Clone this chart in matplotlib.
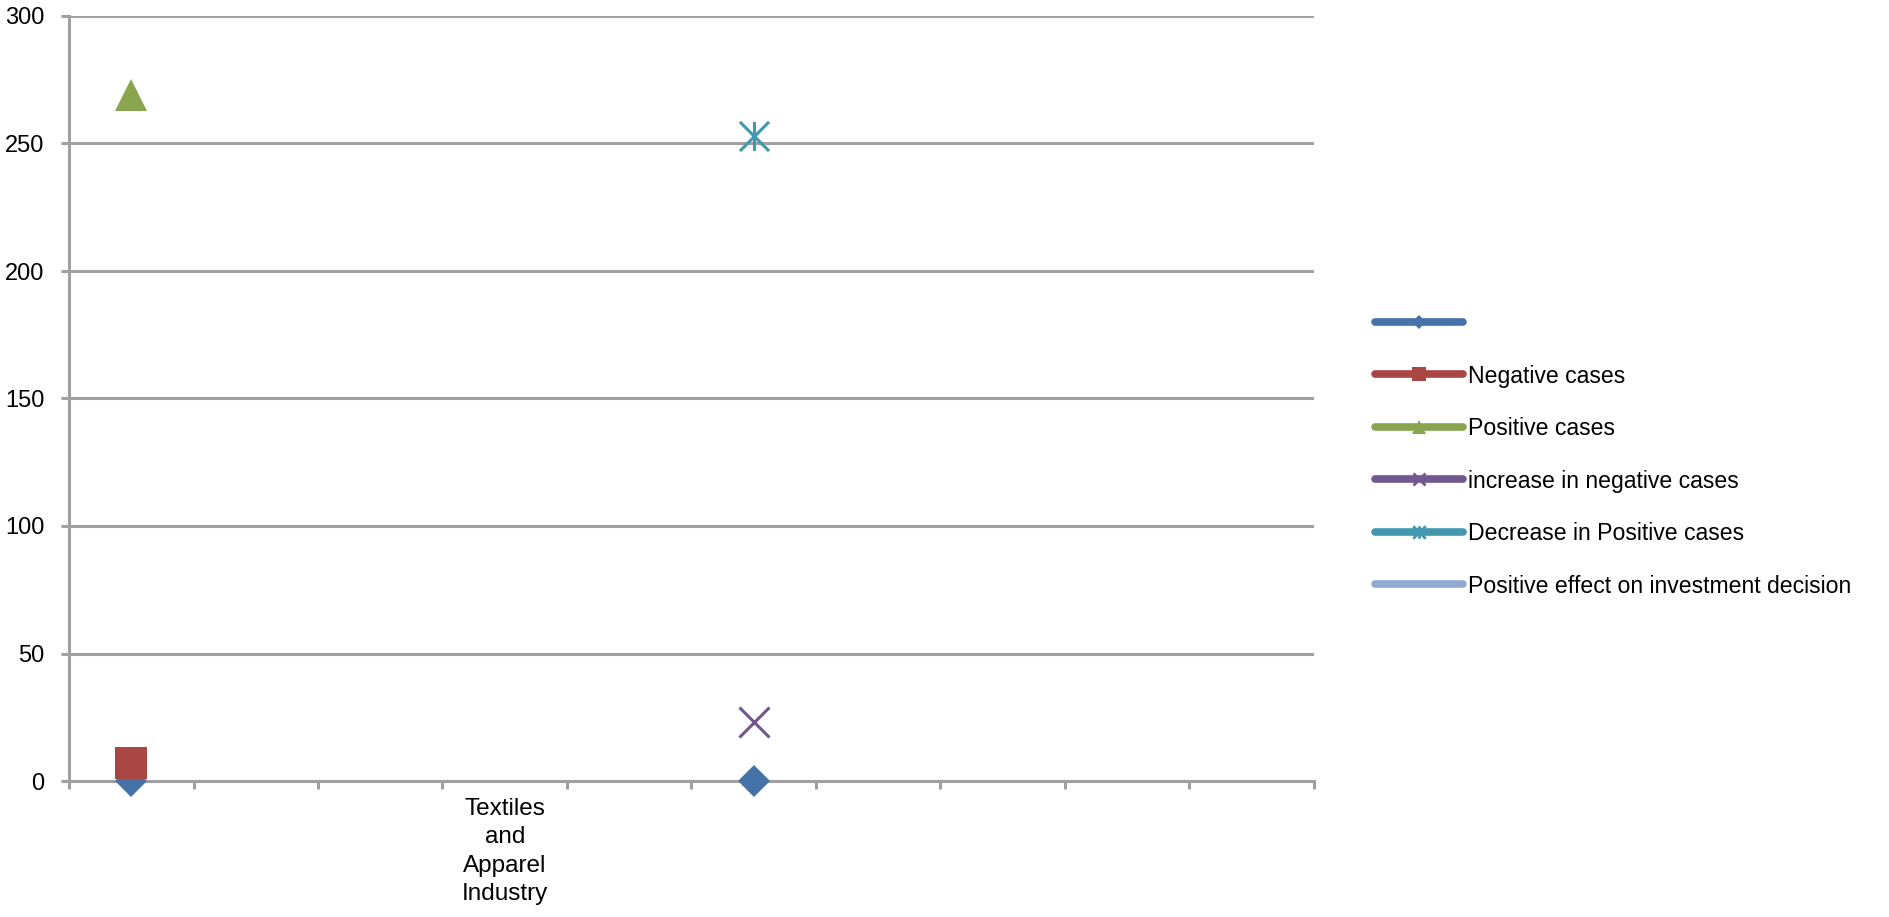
import numpy as np
import matplotlib
matplotlib.use("Agg")
import matplotlib.pyplot as plt
from matplotlib.lines import Line2D
from matplotlib.path import Path

plt.rcParams["font.family"] = ["Liberation Sans", "DejaVu Sans"]

# category slots along the x axis (only one is labelled in the original)
categories = ["", "", "", "Textiles\nand\nApparel\nIndustry", "", "", "", "", "", ""]

nan = np.nan
series_names = [
    "",
    "Negative cases",
    "Positive cases",
    "increase in negative cases",
    "Decrease in Positive cases",
    "Positive effect on investment decision",
]
s_blank = [0, nan, nan, nan, nan, 0, nan, nan, nan, nan]
s_negative = [7, nan, nan, nan, nan, nan, nan, nan, nan, nan]
s_positive = [269, nan, nan, nan, nan, nan, nan, nan, nan, nan]
s_incr_negative = [nan, nan, nan, nan, nan, 23, nan, nan, nan, nan]
s_decr_positive = [nan, nan, nan, nan, nan, 253, nan, nan, nan, nan]
s_positive_effect = [nan] * 10

y_ticks = [0, 50, 100, 150, 200, 250, 300]

colors = ["#4572A7", "#AA4643", "#89A54E", "#71588F", "#4198AF", "#93A9CF"]

# excel style asterisk: an x with a vertical bar through it
asterisk = Path(
    [(-0.5, -0.5), (0.5, 0.5), (-0.5, 0.5), (0.5, -0.5), (0, -0.5), (0, 0.5)],
    [Path.MOVETO, Path.LINETO, Path.MOVETO, Path.LINETO, Path.MOVETO, Path.LINETO],
)

markers = ["D", "s", "^", "x", asterisk, "o"]
big_sizes = [15.8, 22.5, 22.5, 21, 21, 12]
small_sizes = [7.5, 10.5, 10, 9, 9, 4]

fig = plt.figure(figsize=(18.9, 9.17), dpi=100)
ax = fig.add_axes([69 / 1890, 1 - 781 / 917, (1314 - 69) / 1890, (781 - 16) / 917])

x = np.arange(len(categories))
all_series = [s_blank, s_negative, s_positive, s_incr_negative, s_decr_positive, s_positive_effect]
for i, vals in enumerate(all_series):
    ax.plot(x, vals, color=colors[i], lw=5.5, marker=markers[i], ms=big_sizes[i],
            markeredgewidth=2.2 if i in (3, 4) else 0,
            markeredgecolor=colors[i], zorder=3 + i, clip_on=False)

ax.set_xlim(-0.5, len(categories) - 0.5)
ax.set_ylim(0, 300)
ax.set_yticks(y_ticks)
ax.set_yticklabels([str(t) for t in y_ticks])
ax.set_xticks(np.arange(-0.5, len(categories), 1.0))
ax.set_xticklabels([])
ax.set_xticks(x, minor=True)
ax.set_xticklabels(categories, minor=True, ha="center", va="top", linespacing=1.38)

grid_c = "#A0A0A0"
ax.grid(axis="y", color=grid_c, lw=2.2, zorder=0)
ax.set_axisbelow(True)
for side in ("top", "right"):
    ax.spines[side].set_visible(False)
for side in ("left", "bottom"):
    ax.spines[side].set_color(grid_c)
    ax.spines[side].set_linewidth(2.2)
ax.tick_params(axis="both", which="major", colors=grid_c, width=2.2, length=5.5,
               labelsize=17, labelcolor="black")
ax.tick_params(axis="y", pad=12)
ax.tick_params(axis="x", which="minor", length=0, pad=12, labelsize=17.5)

handles = [
    Line2D([], [], color=colors[i], lw=5.5, solid_capstyle="round", marker=markers[i],
           ms=small_sizes[i], markeredgewidth=2 if i in (3, 4) else 0,
           markeredgecolor=colors[i])
    for i in range(len(series_names))
]
fig.legend(handles, series_names, loc="upper left", bbox_to_anchor=(1375 / 1890, 1 - 312 / 917),
           frameon=False, fontsize=16.6, handlelength=3.8, handletextpad=0.25,
           labelspacing=1.28, borderpad=0, borderaxespad=0)

fig.savefig("out.png", dpi=100, facecolor="white")
